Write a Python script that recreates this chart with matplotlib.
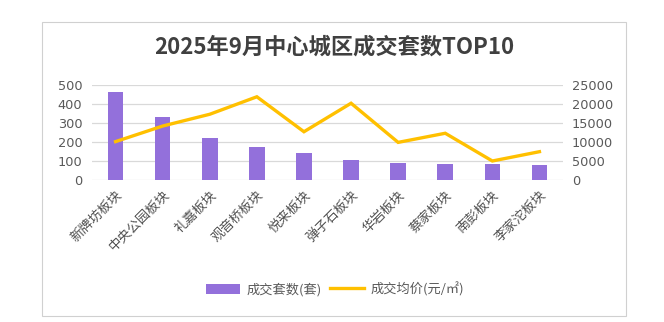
import matplotlib
matplotlib.use('Agg')
import matplotlib.pyplot as plt
from matplotlib.patches import Rectangle

plt.rcParams['font.family'] = ['Noto Sans CJK SC', 'DejaVu Sans']

# 板块与数据
plates = ['新牌坊板块', '中央公园板块', '礼嘉板块', '观音桥板块', '悦来板块',
          '弹子石板块', '华岩板块', '蔡家板块', '南彭板块', '李家沱板块']
units = [465, 332, 221, 174, 142, 105, 89, 84, 84, 79]          # 成交套数(套)
price = [10100, 14200, 17300, 21900, 12700, 20200, 9900, 12300, 5000, 7450]  # 成交均价(元/㎡)

left_ticks = [0, 100, 200, 300, 400, 500]
right_ticks = [0, 5000, 10000, 15000, 20000, 25000]

bar_color = '#9370DB'
line_color = '#FFC000'
txt_color = '#595959'

fig = plt.figure(figsize=(6.64, 3.22), dpi=100)
W, H = 664, 322

# 外框
frame = Rectangle((42 / W, 1 - 316 / H), (626 - 42) / W, (316 - 22) / H,
                  transform=fig.transFigure, facecolor='none',
                  edgecolor='#D0D0D0', linewidth=0.8, zorder=-1)
fig.patches.append(frame)

fig.text(334 / W, 1 - 47 / H, '2025年9月中心城区成交套数TOP10', ha='center', va='center',
         fontsize=16, fontweight='bold', color='#404040')

ax = fig.add_axes([92 / W, 1 - 180 / H, (563 - 92) / W, 95 / H])
x = range(len(plates))
bars = ax.bar(x, units, width=0.33, color=bar_color, zorder=3, label='成交套数(套)')
ax.set_xlim(-0.5, len(plates) - 0.5)
ax.set_ylim(0, 500)
ax.set_yticks(left_ticks)
ax.set_yticklabels([str(v) for v in left_ticks], family='DejaVu Sans')
ax.grid(axis='y', color='#D9D9D9', linewidth=0.9, zorder=0)
ax.set_xticks(list(x))
ax.set_xticklabels(plates, rotation=45, ha='right', rotation_mode='anchor',
                   fontsize=9.5, color='#505050')
ax.tick_params(axis='y', length=0, labelsize=9.3, labelcolor=txt_color, pad=7)
ax.tick_params(axis='x', length=0, pad=6)
for s in ax.spines.values():
    s.set_visible(False)

ax2 = ax.twinx()
line, = ax2.plot(list(x), price, color=line_color, linewidth=2.4, zorder=4,
                 solid_joinstyle='miter', label='成交均价(元/㎡)')
ax2.set_ylim(0, 25000)
ax2.set_yticks(right_ticks)
ax2.set_yticklabels([str(v) for v in right_ticks], family='DejaVu Sans')
ax2.tick_params(axis='y', length=0, labelsize=9.3, labelcolor=txt_color, pad=6.5)
for s in ax2.spines.values():
    s.set_visible(False)

fig.legend([bars, line], ['成交套数(套)', '成交均价(元/㎡)'], loc='center',
           bbox_to_anchor=(335 / W, 1 - 289 / H), ncol=2, frameon=False,
           fontsize=9.5, labelcolor=txt_color, handlelength=2.6, handleheight=0.8,
           columnspacing=0.6, handletextpad=0.5)

fig.savefig('out.png', dpi=100)
